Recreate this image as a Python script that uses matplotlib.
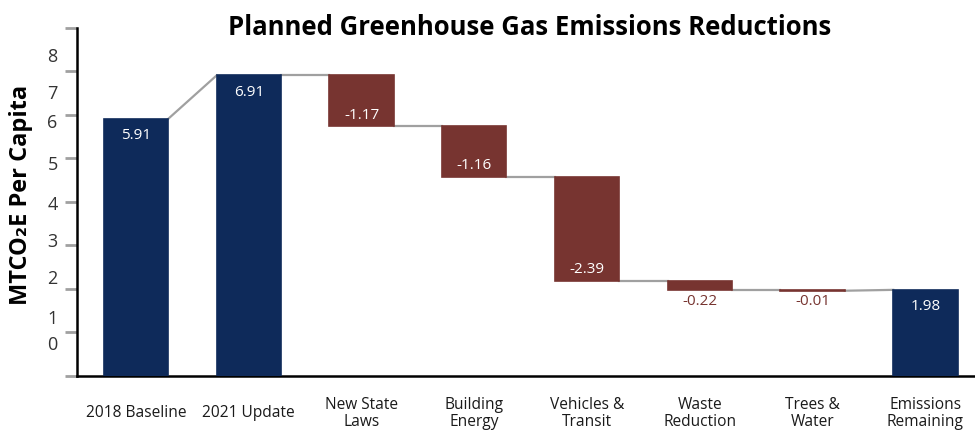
import matplotlib
matplotlib.use("Agg")
import matplotlib.pyplot as plt

# chart values
categories = ["2018 Baseline", "2021 Update", "New State\nLaws", "Building\nEnergy",
              "Vehicles &\nTransit", "Waste\nReduction", "Trees &\nWater", "Emissions\nRemaining"]
baseline = 5.91
update = 6.91
reductions = [-1.17, -1.16, -2.39, -0.22, -0.01]
remaining = 1.98

# y labels as they appear in the picture (offset from the tick marks)
ytick_vals = [0, 1, 2, 3, 4, 5, 6, 7, 8]
ylabel_pos = [0.76, 1.36, 2.28, 3.13, 3.98, 4.9, 5.87, 6.54, 7.38]
ylabel_txt = ["0", "1", "2", "3", "4", "5", "6", "7", "8"]

navy = "#0e2a5a"
red = "#773430"
grey = "#a0a0a0"

plt.rcParams['font.family'] = ['Open Sans', 'DejaVu Sans']

fig = plt.figure(figsize=(9.75, 4.3), dpi=100)
ax = fig.add_axes([0.079, 0.1256, 0.921, 0.8093])

# build bar bottoms / heights
bottoms = [0, 0]
heights = [baseline, update]
colors = [navy, navy]
level = update
for r in reductions:
    bottoms.append(level + r)
    heights.append(-r)
    colors.append(red)
    level += r
bottoms.append(0)
heights.append(remaining)
colors.append(navy)

x = list(range(len(categories)))
w = 0.57
ax.bar(x, heights, bottom=bottoms, width=w, color=colors, edgecolor=colors, linewidth=1.2, zorder=3)

# connector lines between bars
starts = [b + h for b, h in zip(bottoms, heights)]
ends = []
for i in range(len(x)):
    if colors[i] == red:
        ends.append(bottoms[i])
    else:
        ends.append(starts[i])
for i in range(len(x) - 1):
    nxt = starts[i + 1]
    ax.plot([x[i] + w / 2, x[i + 1] - w / 2], [ends[i], nxt], color=grey, lw=1.6, zorder=2)

# value labels
values = [baseline, update] + reductions + [remaining]
for i, v in enumerate(values):
    txt = f"{v:.2f}"
    if v > 0:
        ax.annotate(txt, (x[i], bottoms[i] + heights[i]), xytext=(0, -12), textcoords="offset points",
                    ha="center", va="center", color="white", fontsize=11)
    elif heights[i] >= 0.5:
        ax.annotate(txt, (x[i], bottoms[i]), xytext=(0, 8), textcoords="offset points",
                    ha="center", va="center", color="white", fontsize=11)
    else:
        ax.annotate(txt, (x[i], bottoms[i]), xytext=(0, -8), textcoords="offset points",
                    ha="center", va="center", color=red, fontsize=11)

ax.set_xlim(-0.523, 7.44)
ax.set_ylim(0, 8)

for s in ["top", "right"]:
    ax.spines[s].set_visible(False)
ax.spines["left"].set_linewidth(1.8)
ax.spines["bottom"].set_linewidth(1.8)

# grey tick marks on the integers, labels placed separately
ax.set_yticks(ytick_vals)
ax.set_yticklabels([])
ax.tick_params(axis="y", which="major", length=9, width=2, color=grey)
ax.set_yticks(ylabel_pos, minor=True)
ax.set_yticklabels(ylabel_txt, minor=True)
ax.tick_params(axis="y", which="minor", length=0, pad=14, labelsize=13, labelcolor="#333333")

ax.set_xticks(x)
ax.set_xticklabels(categories, fontsize=11.2, color="#1a1a1a", linespacing=1.15)
for t in ax.get_xticklabels():
    t.set_verticalalignment("center")
ax.tick_params(axis="x", length=0, pad=27)

ax.set_ylabel("MTCO₂E Per Capita", fontsize=17, fontweight="bold")
ax.yaxis.set_label_coords(-0.049, 0.52)
fig.text(0.543, 0.935, "Planned Greenhouse Gas Emissions Reductions", ha="center", va="center",
         fontsize=18.5, fontweight="bold")

fig.savefig("out.png", dpi=100)
